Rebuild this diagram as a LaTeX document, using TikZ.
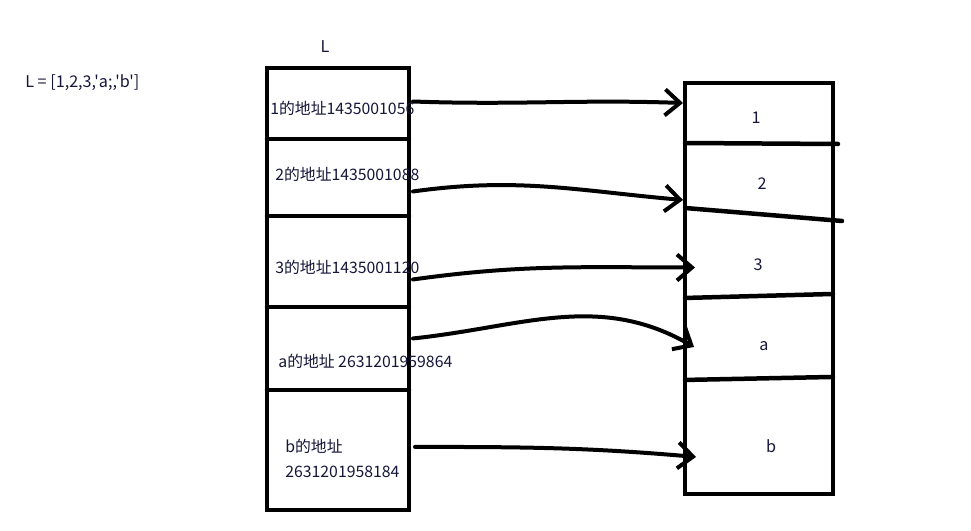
\documentclass[tikz,border=0pt]{standalone}
\usepackage{fontspec}
\usepackage{tikz}
\usetikzlibrary{arrows.meta,positioning}
\usepackage{xcolor}
\newfontfamily\cjk{Noto Sans CJK SC}
\definecolor{ink}{HTML}{000000}
\definecolor{textc}{HTML}{16163A}
\tikzset{
  cell/.style={draw=none,inner sep=0pt,outer sep=0pt,minimum width=2.84cm},
  rcell/.style={draw=none,inner sep=0pt,outer sep=0pt,minimum width=2.96cm},
  frame/.style={draw=ink,line width=0.09cm,line cap=round},
  arrow/.style={-{Straight Barb[length=3mm,width=5.2mm]},draw=ink,line width=0.08cm,line cap=round},
  addr/.style={font=\cjk\fontsize{9.0}{14.2}\selectfont,text=textc,inner sep=0pt,anchor=west,align=left},
  val/.style={font=\cjk\fontsize{9.2}{11}\selectfont,text=textc,inner sep=0pt}
}

\begin{document}
\begin{tikzpicture}[x=0.02cm,y=-0.02cm,node distance=0pt]
  \useasboundingbox[fill=white] (0,0) rectangle (971,531);
  % list and its name
  \node[addr,font=\cjk\fontsize{9.2}{11}\selectfont] (list) at (25,83) {L = [1,2,3,'a;,'b']};
  \node[val] (name) at (325,47) {L};
  % left column: addresses
  \node[cell,minimum height=1.42cm] (c1) at (338,103.5) {};
  \node[cell,minimum height=1.54cm,below=of c1] (c2) {};
  \node[cell,minimum height=1.82cm,below=of c2] (c3) {};
  \node[cell,minimum height=1.66cm,below=of c3] (c4) {};
  \node[cell,minimum height=2.40cm,below=of c4] (c5) {};
  \draw[frame] (c1.north west) rectangle (c5.south east);
  \foreach \n in {1,...,4} \draw[frame] (c\n.south west) -- (c\n.south east);
  % right column: values
  \node[rcell,minimum height=1.20cm] (r1) at (759,113) {};
  \node[rcell,minimum height=1.36cm,below=of r1] (r2) {};
  \node[rcell,minimum height=1.70cm,below=of r2] (r3) {};
  \node[rcell,minimum height=1.64cm,below=of r3] (r4) {};
  \node[rcell,minimum height=2.32cm,below=of r4] (r5) {};
  \draw[frame] (r1.north west) rectangle (r5.south east);
  \draw[frame] (r1.south west) -- ([shift={(5,1)}]r1.south east);
  \draw[frame] ([shift={(0,-3)}]r2.south west) -- ([shift={(9,10)}]r2.south east);
  \draw[frame] ([shift={(0,2)}]r3.south west) -- ([shift={(0,-2)}]r3.south east);
  \draw[frame] ([shift={(0,2)}]r4.south west) -- ([shift={(0,-1)}]r4.south east);
  % texts
  \node[addr] (t1) at (270,108) {1的地址1435001056};
  \node[addr] (t2) at (275,174) {2的地址1435001088};
  \node[addr] (t3) at (275,267) {3的地址1435001120};
  \node[addr] (t4) at (278,361) {a的地址 2631201959864};
  \node[addr] (t5) at (285,458) {b的地址\\2631201958184};
  \node[val] (v1) at (756,118) {1};
  \node[val] (v2) at (762,184) {2};
  \node[val] (v3) at (758,265) {3};
  \node[val] (v4) at (764,346) {a};
  \node[val] (v5) at (771,446) {b};
  % pointers
  \draw[arrow] ([shift={(4,-2)}]c1.east) to[out=-2,in=178] ([shift={(-2,-10)}]r1.west);
  \draw[arrow] ([shift={(4,14)}]c2.east) to[out=8,in=175] ([shift={(-2,23)}]r2.west);
  \draw[arrow] ([shift={(4,18)}]c3.east) to[out=8,in=180] ([shift={(10,14)}]r3.west);
  \draw[arrow] ([shift={(4,-10)}]c4.east) to[out=6,in=150] ([shift={(9,10)}]r4.west);
  \draw[arrow] ([shift={(6,-3)}]c5.east) to[out=0,in=175] ([shift={(11,21)}]r5.west);
\end{tikzpicture}
\end{document}
